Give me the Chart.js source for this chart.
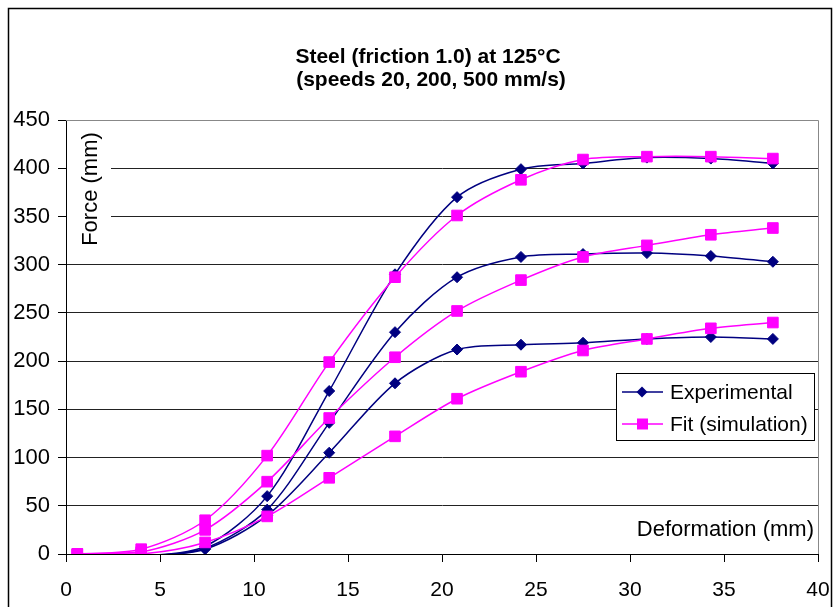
<!DOCTYPE html>
<html>
<head>
<meta charset="utf-8">
<script src="https://cdn.jsdelivr.net/npm/chart.js@4.4.0/dist/chart.umd.min.js"></script>
<style>
  html, body { margin: 0; padding: 0; background: #fff; }
  #wrap { width: 835px; height: 607px; position: relative; }
</style>
</head>
<body>
<div id="wrap"><canvas id="forceChart"></canvas></div>
<script>
// data
const deformation = [0.6, 4.0, 7.4, 10.7, 14.0, 17.5, 20.8, 24.2, 27.5, 30.9, 34.3, 37.6];

const exp500 = [-2, -2, 8, 60, 169, 290, 370, 399, 405, 411, 410, 405];
const exp200 = [-2, -2, 6, 46, 136, 230, 287, 308, 311, 312, 309, 303];
const exp20 = [-2, -2, 5, 40, 105, 177, 212, 217, 219, 223, 225, 223];

const fit500 = [0, 5, 35, 102, 199, 287, 351, 388, 409, 412, 412, 410];
const fit200 = [0, 2, 25, 75, 141, 204, 252, 284, 308, 320, 331, 338];
const fit20 = [0, 0, 12, 39, 79, 122, 161, 189, 211, 223, 234, 240];

const xTicks = [0, 5, 10, 15, 20, 25, 30, 35, 40];
const yTicks = [0, 50, 100, 150, 200, 250, 300, 350, 400, 450];

const titleLines = ["Steel (friction 1.0) at 125°C", "(speeds 20, 200, 500 mm/s)"];
const legendLabels = ["Experimental", "Fit (simulation)"];

const NAVY = "#000080";
const MAGENTA = "#FF00FF";
const FONT = "'Liberation Sans', Arial, sans-serif";

function pts(ys) {
  return ys.map((y, i) => ({ x: deformation[i], y: y }));
}

function expSet(ys) {
  return {
    data: pts(ys),
    borderColor: NAVY,
    backgroundColor: NAVY,
    borderWidth: 1.5,
    pointStyle: "rectRot",
    pointRadius: 5.5,
    pointBorderWidth: 1,
    order: 1
  };
}

function fitSet(ys) {
  return {
    data: pts(ys),
    borderColor: MAGENTA,
    backgroundColor: MAGENTA,
    borderWidth: 1.5,
    pointStyle: "rect",
    pointRadius: 7.5,
    pointBorderWidth: 1,
    order: 0
  };
}

function diamond(ctx, x, y, r, color) {
  ctx.fillStyle = color;
  ctx.beginPath();
  ctx.moveTo(x - r, y);
  ctx.lineTo(x, y - r);
  ctx.lineTo(x + r, y);
  ctx.lineTo(x, y + r);
  ctx.closePath();
  ctx.fill();
}

// frame, labels, title, legend
const extras = {
  id: "extras",
  beforeDraw(chart) {
    const ctx = chart.ctx;
    ctx.save();
    ctx.fillStyle = "#fff";
    ctx.fillRect(0, 0, chart.width, chart.height);
    ctx.strokeStyle = "#000";
    ctx.lineWidth = 1.5;
    ctx.strokeRect(8.5, 8.5, 823, 640);
    ctx.restore();
  },
  beforeDatasetsDraw(chart) {
    const ctx = chart.ctx;
    const a = chart.chartArea;
    ctx.save();
    // plot border top / right (grey)
    ctx.strokeStyle = "#888";
    ctx.lineWidth = 1;
    ctx.beginPath();
    ctx.moveTo(a.left, a.top + 0.5);
    ctx.lineTo(a.right + 0.5, a.top + 0.5);
    ctx.lineTo(a.right + 0.5, a.bottom);
    ctx.stroke();

    // y axis title sits inside the plot on a white box
    ctx.fillStyle = "#fff";
    ctx.fillRect(a.left + 1, 128, 44, 124);
    ctx.fillStyle = "#000";
    ctx.font = "22px " + FONT;
    ctx.textAlign = "center";
    ctx.textBaseline = "middle";
    ctx.translate(91, 189);
    ctx.rotate(-Math.PI / 2);
    ctx.fillText("Force (mm)", 0, 0);
    ctx.restore();
  },
  afterDraw(chart) {
    const ctx = chart.ctx;
    ctx.save();
    ctx.fillStyle = "#000";

    // title
    ctx.font = "bold 21px " + FONT;
    ctx.textAlign = "center";
    ctx.textBaseline = "alphabetic";
    ctx.fillText(titleLines[0], 428, 63);
    ctx.fillText(titleLines[1], 431, 86);

    // x axis title
    ctx.font = "22px " + FONT;
    ctx.textAlign = "right";
    ctx.textBaseline = "middle";
    ctx.fillText("Deformation (mm)", 814, 530);

    // legend
    const lx = 616, ly = 373, lw = 198, lh = 67;
    ctx.fillStyle = "#fff";
    ctx.fillRect(lx, ly, lw, lh);
    ctx.strokeStyle = "#000";
    ctx.lineWidth = 1;
    ctx.strokeRect(lx + 0.5, ly + 0.5, lw, lh);

    const rows = [
      { y: 392, color: NAVY, label: legendLabels[0], kind: "diamond" },
      { y: 424, color: MAGENTA, label: legendLabels[1], kind: "square" }
    ];
    rows.forEach(r => {
      ctx.strokeStyle = r.color;
      ctx.lineWidth = 1.5;
      ctx.beginPath();
      ctx.moveTo(622, r.y);
      ctx.lineTo(663, r.y);
      ctx.stroke();
      if (r.kind === "diamond") {
        diamond(ctx, 642, r.y, 5.5, r.color);
      } else {
        ctx.fillStyle = r.color;
        ctx.fillRect(637, r.y - 5.5, 11, 11);
      }
      ctx.fillStyle = "#000";
      ctx.font = "21px " + FONT;
      ctx.textAlign = "left";
      ctx.textBaseline = "middle";
      ctx.fillText(r.label, 670, r.y + 1);
    });
    ctx.restore();
  }
};

new Chart(document.getElementById("forceChart"), {
  type: "line",
  data: {
    datasets: [
      expSet(exp500), expSet(exp200), expSet(exp20),
      fitSet(fit500), fitSet(fit200), fitSet(fit20)
    ]
  },
  options: {
    responsive: true,
    maintainAspectRatio: false,
    animation: false,
    events: [],
    layout: { padding: { top: 120, right: 17, left: 0, bottom: 0 } },
    elements: { line: { tension: 0.3 } },
    plugins: {
      legend: { display: false },
      tooltip: { enabled: false },
      title: { display: false }
    },
    scales: {
      x: {
        type: "linear",
        min: xTicks[0],
        max: xTicks[xTicks.length - 1],
        afterFit: s => { s.height = 53; s.paddingLeft = 0; s.paddingRight = 0; },
        afterBuildTicks: s => { s.ticks = xTicks.map(v => ({ value: v })); },
        ticks: {
          color: "#000",
          font: { size: 21, family: FONT },
          padding: 16,
          maxRotation: 0
        },
        grid: {
          drawOnChartArea: false,
          drawTicks: true,
          tickLength: 8,
          color: "#000"
        },
        border: { color: "#000", width: 1 }
      },
      y: {
        type: "linear",
        min: yTicks[0],
        max: yTicks[yTicks.length - 1],
        afterFit: s => { s.width = 66; },
        afterBuildTicks: s => { s.ticks = yTicks.map(v => ({ value: v })); },
        ticks: {
          color: "#000",
          font: { size: 22, family: FONT },
          padding: 8
        },
        grid: {
          color: c => (c.tick && c.tick.value === 450) ? "#888" : "#222",
          tickColor: "#000",
          tickLength: 8,
          lineWidth: 1
        },
        border: { color: "#000", width: 1 }
      }
    }
  },
  plugins: [extras]
});
</script>
</body>
</html>
